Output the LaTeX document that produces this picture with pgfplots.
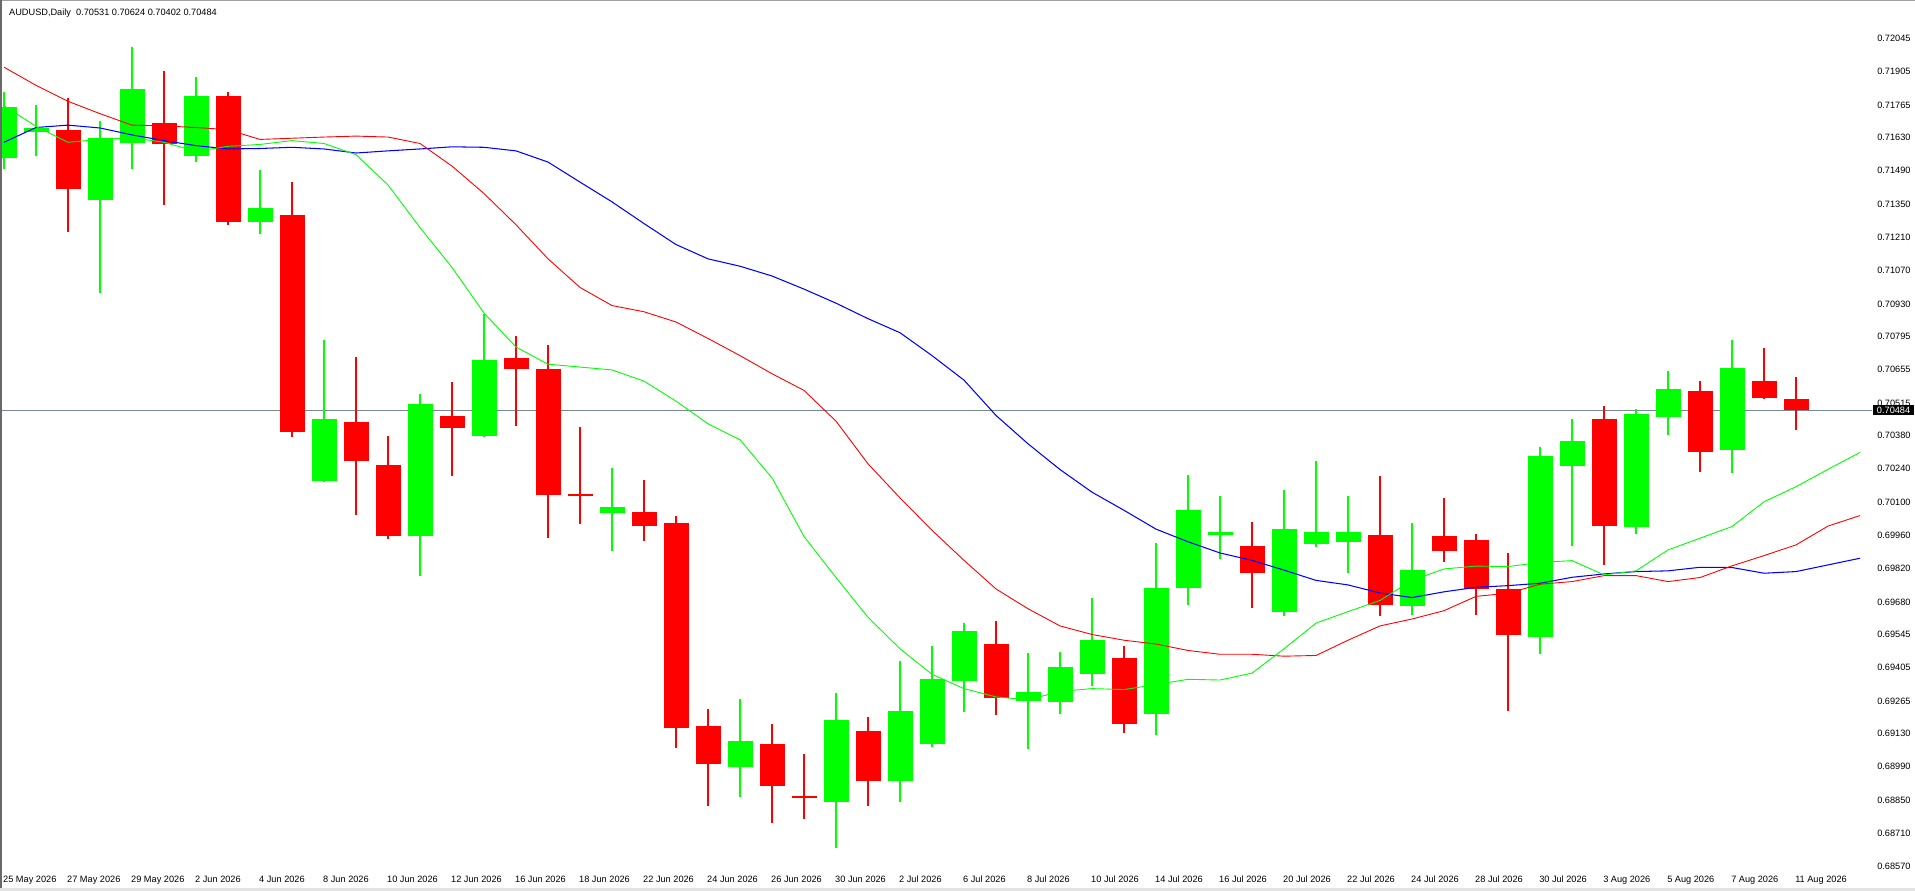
\documentclass[border=0pt]{standalone}
\usepackage{fontspec}
\setmainfont{Liberation Sans}
\usepackage{pgfplots}
\usepackage{pgfplotstable}
\pgfplotsset{compat=1.18}
\definecolor{bull}{RGB}{0,255,0}
\definecolor{bear}{RGB}{255,0,0}
\definecolor{maB}{RGB}{0,0,255}
\definecolor{pline}{RGB}{119,136,153}

\pgfplotstableread{
x o h l c
0 0.71545 0.71819 0.71499 0.71757
1 0.71652 0.71764 0.71550 0.71669
3 0.71368 0.71700 0.70977 0.71626
4 0.71607 0.72008 0.71495 0.71831
6 0.71552 0.71881 0.71526 0.71803
8 0.71273 0.71492 0.71225 0.71332
10 0.70189 0.70781 0.70185 0.70447
13 0.69957 0.70552 0.69788 0.70509
15 0.70375 0.70888 0.70372 0.70697
19 0.70053 0.70244 0.69893 0.70081
23 0.68990 0.69274 0.68864 0.69098
26 0.68842 0.69298 0.68649 0.69186
28 0.68928 0.69434 0.68840 0.69224
29 0.69083 0.69496 0.69071 0.69358
30 0.69348 0.69592 0.69217 0.69559
32 0.69267 0.69468 0.69062 0.69303
33 0.69262 0.69470 0.69212 0.69408
34 0.69377 0.69697 0.69329 0.69520
36 0.69212 0.69929 0.69124 0.69740
37 0.69738 0.70215 0.69666 0.70067
38 0.69960 0.70127 0.69859 0.69976
40 0.69637 0.70151 0.69621 0.69988
41 0.69924 0.70270 0.69912 0.69976
42 0.69931 0.70127 0.69802 0.69972
44 0.69664 0.70010 0.69625 0.69816
48 0.69532 0.70332 0.69461 0.70294
49 0.70251 0.70447 0.69914 0.70354
51 0.69997 0.70490 0.69965 0.70469
52 0.70456 0.70650 0.70381 0.70574
54 0.70320 0.70780 0.70222 0.70662
}\bulltab

\pgfplotstableread{
x o h l c
2 0.71659 0.71795 0.71234 0.71411
5 0.71690 0.71908 0.71347 0.71600
7 0.71803 0.71819 0.71263 0.71273
9 0.71304 0.71442 0.70373 0.70392
11 0.70437 0.70707 0.70046 0.70272
12 0.70256 0.70375 0.69943 0.69957
14 0.70459 0.70602 0.70208 0.70411
16 0.70702 0.70798 0.70418 0.70659
17 0.70657 0.70757 0.69948 0.70129
18 0.70134 0.70416 0.70007 0.70127
20 0.70060 0.70194 0.69936 0.69998
21 0.70010 0.70043 0.69067 0.69150
22 0.69160 0.69231 0.68823 0.69002
24 0.69083 0.69169 0.68752 0.68907
25 0.68866 0.69043 0.68771 0.68859
27 0.69138 0.69198 0.68823 0.68928
31 0.69504 0.69601 0.69208 0.69279
35 0.69446 0.69496 0.69129 0.69167
39 0.69917 0.70015 0.69656 0.69804
43 0.69962 0.70210 0.69621 0.69666
45 0.69957 0.70115 0.69850 0.69893
46 0.69940 0.69967 0.69625 0.69735
47 0.69735 0.69888 0.69222 0.69542
50 0.70449 0.70503 0.69836 0.70001
53 0.70566 0.70608 0.70227 0.70311
55 0.70608 0.70746 0.70532 0.70538
56 0.70531 0.70624 0.70402 0.70484
}\beartab

\pgfplotstableread{
x g r b
0 0.71762 0.71924 0.71609
1 0.71676 0.71848 0.71671
2 0.71609 0.71781 0.71681
3 0.71621 0.71729 0.71669
4 0.71628 0.71681 0.71640
5 0.71609 0.71678 0.71616
6 0.71571 0.71671 0.71595
7 0.71592 0.71662 0.71581
8 0.71600 0.71621 0.71583
9 0.71616 0.71626 0.71588
10 0.71604 0.71631 0.71581
11 0.71557 0.71635 0.71564
12 0.71430 0.71631 0.71573
13 0.71251 0.71604 0.71581
14 0.71084 0.71509 0.71590
15 0.70893 0.71394 0.71588
16 0.70750 0.71263 0.71573
17 0.70678 0.71120 0.71526
18 0.70666 0.71000 0.71442
19 0.70654 0.70924 0.71359
20 0.70607 0.70898 0.71268
21 0.70523 0.70855 0.71180
22 0.70428 0.70786 0.71120
23 0.70361 0.70714 0.71089
24 0.70201 0.70638 0.71048
25 0.69955 0.70568 0.70993
26 0.69783 0.70439 0.70934
27 0.69616 0.70260 0.70869
28 0.69484 0.70117 0.70810
29 0.69377 0.69981 0.70714
30 0.69317 0.69855 0.70611
31 0.69282 0.69735 0.70463
32 0.69270 0.69652 0.70344
33 0.69305 0.69580 0.70236
34 0.69317 0.69544 0.70141
35 0.69313 0.69520 0.70065
36 0.69334 0.69504 0.69986
37 0.69356 0.69477 0.69933
38 0.69353 0.69461 0.69886
39 0.69382 0.69461 0.69855
40 0.69484 0.69453 0.69814
41 0.69592 0.69456 0.69771
42 0.69640 0.69520 0.69752
43 0.69687 0.69580 0.69718
44 0.69771 0.69609 0.69699
45 0.69819 0.69644 0.69723
46 0.69831 0.69704 0.69742
47 0.69829 0.69717 0.69749
48 0.69846 0.69755 0.69759
49 0.69854 0.69766 0.69784
50 0.69794 0.69791 0.69798
51 0.69811 0.69791 0.69808
52 0.69899 0.69766 0.69811
53 0.69948 0.69783 0.69826
54 0.69997 0.69832 0.69825
55 0.70101 0.69875 0.69801
56 0.70164 0.69920 0.69808
57 0.70237 0.69999 0.69836
58 0.70308 0.70043 0.69864
}\matab

\begin{document}
\begin{tikzpicture}
\useasboundingbox (0,0) rectangle (1915pt,891pt);
\fill[white] (0,0) rectangle (1915pt,891pt);
\begin{axis}[
  scale only axis,
  width=1872pt, height=870pt,
  at={(0pt,21pt)}, anchor=south west,
  xmin=-0.125, xmax=58.375,
  ymin=0.68556, ymax=0.72206,
  axis line style={draw=none},
  major tick length=0pt,
  xtick={0,2,4,6,8,10,12,14,16,18,20,22,24,26,28,30,32,34,36,38,40,42,44,46,48,50,52,54,56},
  xticklabels={25 May 2026,27 May 2026,29 May 2026,2 Jun 2026,4 Jun 2026,8 Jun 2026,10 Jun 2026,12 Jun 2026,16 Jun 2026,18 Jun 2026,22 Jun 2026,24 Jun 2026,26 Jun 2026,30 Jun 2026,2 Jul 2026,6 Jul 2026,8 Jul 2026,10 Jul 2026,14 Jul 2026,16 Jul 2026,20 Jul 2026,22 Jul 2026,24 Jul 2026,28 Jul 2026,30 Jul 2026,3 Aug 2026,5 Aug 2026,7 Aug 2026,11 Aug 2026},
  xticklabel style={anchor=base west, inner sep=0pt, xshift=-1pt, yshift=-13pt, font=\fontsize{9.2}{11}\selectfont},
  ytick={0.68570,0.68710,0.68850,0.68990,0.69130,0.69265,0.69405,0.69545,0.69680,0.69820,0.69960,0.70100,0.70240,0.70380,0.70515,0.70655,0.70795,0.70930,0.71070,0.71210,0.71350,0.71490,0.71630,0.71765,0.71905,0.72045},
  yticklabels={0.68570,0.68710,0.68850,0.68990,0.69130,0.69265,0.69405,0.69545,0.69680,0.69820,0.69960,0.70100,0.70240,0.70380,0.70515,0.70655,0.70795,0.70930,0.71070,0.71210,0.71350,0.71490,0.71630,0.71765,0.71905,0.72045},
  yticklabel pos=right,
  yticklabel style={anchor=west, inner sep=0pt, xshift=5pt, font=\fontsize{9.2}{11}\selectfont},
]
% current price line
\addplot[pline, line width=0.9pt, forget plot] coordinates {(-0.125,0.70484) (58.375,0.70484)};
% wicks
\addplot[draw=none, forget plot, error bars/.cd, y dir=plus, y explicit, error mark=none,
  error bar style={draw=bull, line width=1.2pt}]
  table[x=x, y=l, y error plus expr=\thisrow{h}-\thisrow{l}] {\bulltab};
\addplot[draw=none, forget plot, error bars/.cd, y dir=plus, y explicit, error mark=none,
  error bar style={draw=bear, line width=1.2pt}]
  table[x=x, y=l, y error plus expr=\thisrow{h}-\thisrow{l}] {\beartab};
% bodies
\addplot[draw=none, forget plot, error bars/.cd, y dir=plus, y explicit, error mark=none,
  error bar style={draw=bull, line width=25pt}]
  table[x=x, y=o, y error plus expr=\thisrow{c}-\thisrow{o}] {\bulltab};
\addplot[draw=none, forget plot, error bars/.cd, y dir=plus, y explicit, error mark=none,
  error bar style={draw=bear, line width=25pt}]
  table[x=x, y=c, y error plus expr=\thisrow{o}-\thisrow{c}] {\beartab};
% moving averages
\addplot[maB, line width=1.05pt, forget plot] table[x=x, y=b] {\matab};
\addplot[bear, line width=0.9pt, forget plot] table[x=x, y=r] {\matab};
\addplot[bull, line width=0.9pt, forget plot] table[x=x, y=g] {\matab};
\coordinate (cp) at (axis cs:58.375,0.70484);
\end{axis}
\node[anchor=west, fill=black, text=white, inner xsep=4pt, inner ysep=0pt, minimum height=10pt,
  font=\fontsize{9.2}{11}\selectfont] at ([xshift=0.7pt]cp) {0.70484};
\node[anchor=base west, inner sep=0pt, font=\fontsize{9.2}{11}\selectfont] at (9pt,875pt)
  {AUDUSD,Daily\ \ 0.70531 0.70624 0.70402 0.70484};
\fill[black!37] (0,889.5pt) rectangle (1915pt,891pt);
\fill[black!59] (0,0) rectangle (1.5pt,891pt);
\fill[black!11] (0,0) rectangle (1915pt,2.5pt);
\end{tikzpicture}
\end{document}
